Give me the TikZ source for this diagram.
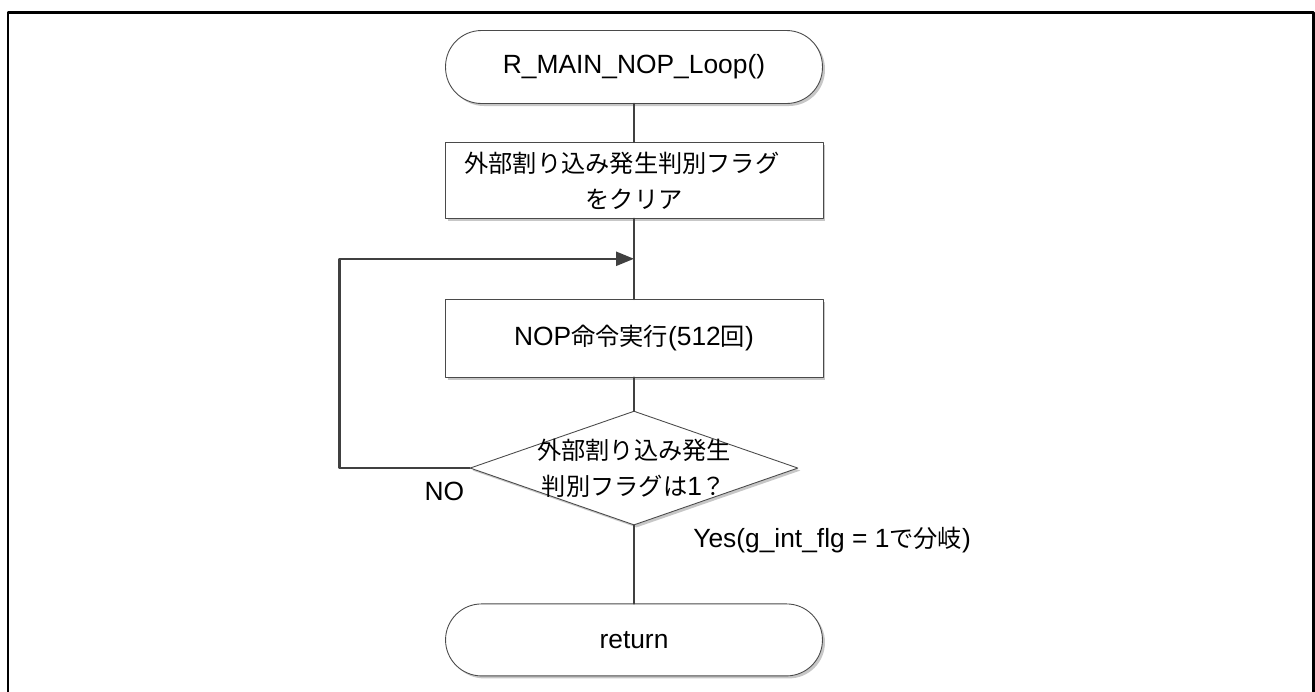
\documentclass[tikz,border=0pt]{standalone}
\usepackage{fontspec}
\setmainfont{Liberation Sans}
\newfontfamily\jp[Scale=0.92]{Noto Sans CJK JP}
\usetikzlibrary{positioning,shapes.geometric,shadows,arrows.meta}
\definecolor{lineg}{HTML}{404040}
\definecolor{edgeg}{HTML}{4A4A4A}

\begin{document}
\begin{tikzpicture}[x=0.02cm,y=-0.02cm,line cap=round,line join=round,
    font=\fontsize{15}{20.5}\selectfont,
    softshade/.style={drop shadow={shadow xshift=0.05cm,shadow yshift=-0.05cm,fill=black!22,opacity=1}},
    term/.style={rectangle,rounded corners=0.72cm,draw=edgeg,line width=0.5pt,fill=white,softshade,
        minimum width=7.54cm,minimum height=1.46cm},
    proc/.style={rectangle,draw=edgeg,line width=0.5pt,fill=white,softshade,align=center,
        minimum width=7.56cm,minimum height=1.52cm},
    decide/.style={diamond,aspect=2.88,draw=edgeg,line width=0.5pt,fill=white,softshade,
        minimum width=6.56cm,minimum height=2.28cm,inner sep=0pt},
    conn/.style={draw=lineg,line width=1.4pt},
    lbl/.style={inner sep=0pt}]
    \useasboundingbox (0,0) rectangle (1315,691);
    \draw[line width=0.06cm,line cap=butt] (8,720) |- (1313,12) -- (1313,720);

    \node[term] (start) at (634,67) {R\_MAIN\_NOP\_Loop()};
    \node[proc,below=0.76cm of start] (clr) {{\jp 外部割り込み発生判別フラグ　}\\{\jp をクリア}};
    \node[proc,below=1.6cm of clr,minimum height=1.56cm] (nop) {NOP{\jp 命令実行}(512{\jp 回})};
    \node[decide,below=0.66cm of nop,
        label={[align=center]center:{\jp 外部割り込み発生}\\{\jp 判別フラグは}1{\jp ？}}] (dec) {};
    \node[term,below=1.56cm of dec,minimum height=1.44cm] (ret) {return};

    \node[lbl,below left=0.28cm and 0.1cm of dec.west] (no) {NO};
    \node[lbl,anchor=west] (yes) at ([shift={(59,15)}]dec.south) {Yes(g\_int\_flg = 1{\jp で分岐})};

    \draw[conn] (start) -- (clr);
    \draw[conn] (clr) -- coordinate (loop) (nop);
    \draw[conn] (nop) -- (dec);
    \draw[conn] (dec) -- (ret);
    \draw[conn,-{Triangle[length=0.36cm,width=0.28cm]}] (dec.west) -- ++(-130,0) |- (loop);
\end{tikzpicture}
\end{document}
